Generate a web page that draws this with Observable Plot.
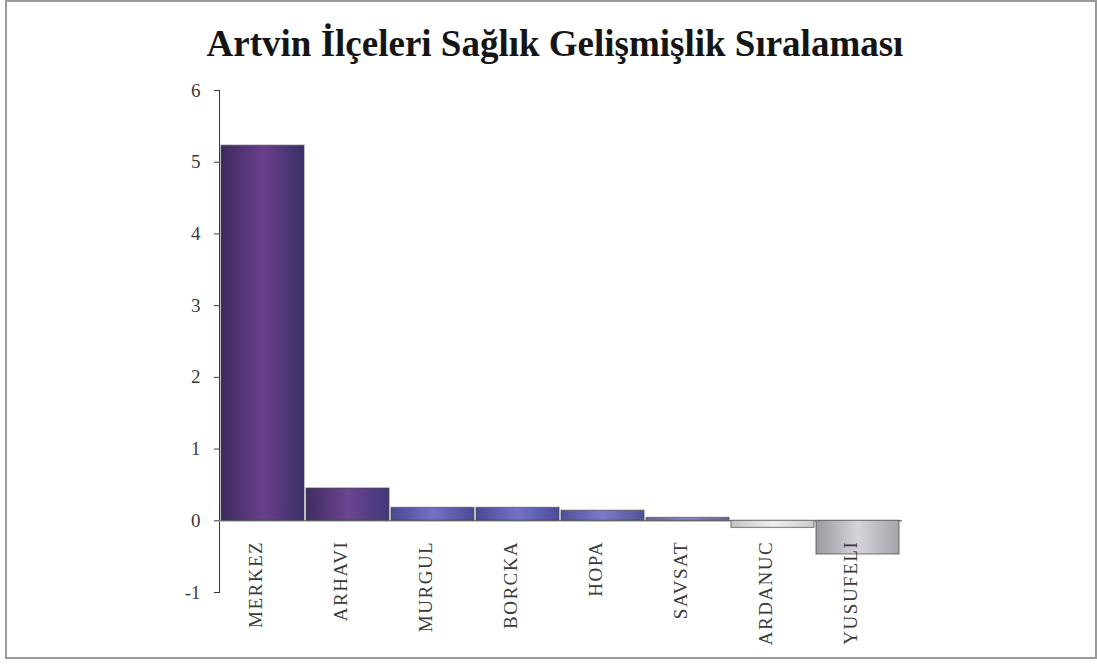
<!DOCTYPE html>
<html><head><meta charset="utf-8">
<script src="https://cdn.jsdelivr.net/npm/d3@7"></script>
<script src="https://cdn.jsdelivr.net/npm/@observablehq/plot@0.6"></script>
<style>
body{margin:0;background:#fff;}
#wrap{position:relative;width:1097px;height:664px;overflow:hidden;background:#fff;}
#frame{position:absolute;left:5px;top:0px;width:1092px;height:659px;border:2px solid #9a9a9a;box-sizing:border-box;}
#title{position:absolute;left:0;width:1110px;top:22px;text-align:center;font-family:"Liberation Serif",serif;font-weight:bold;font-size:37px;color:#151515;white-space:nowrap;}
#chart{position:absolute;left:0;top:0;}
</style></head>
<body>
<svg width="0" height="0" style="position:absolute"><defs id="defs"></defs></svg>
<div id="wrap"><div id="frame"></div><div id="title">Artvin İlçeleri Sağlık Gelişmişlik Sıralaması</div><div id="chart"></div></div>
<script>
const districts = ["MERKEZ","ARHAVI","MURGUL","BORCKA","HOPA","SAVSAT","ARDANUC","YUSUFELI"];
const scores = [5.23, 0.45, 0.18, 0.18, 0.14, 0.04, -0.1, -0.47];
const yTicks = [-1, 0, 1, 2, 3, 4, 5, 6];

const barShades = [
  ["#3b2a5c","#6a3f8c","#3a3068"],
  ["#3f2c60","#6a4590","#43377a"],
  ["#4a4790","#7470c6","#4b4a95"],
  ["#484894","#7472c8","#4a4c98"],
  ["#50509a","#7c7aca","#525296"],
  ["#6a6a9a","#8d8cc0","#6a6a98"],
  ["#c4c4c6","#eeeeee","#cdcdcf"],
  ["#9c9aa0","#d6d4da","#a6a4aa"]
];
const barStrokes = ["#2e2448","#32264e","#3a3878","#3a3878","#3e3e80","#5a5a88","#a8a8a8","#808080"];

const defs = d3.select("#defs");
barShades.forEach((s, i) => {
  const g = defs.append("linearGradient").attr("id", "g" + i).attr("x1", "0%").attr("x2", "100%").attr("y1", "0%").attr("y2", "0%");
  g.append("stop").attr("offset", "0%").attr("stop-color", s[0]);
  g.append("stop").attr("offset", "50%").attr("stop-color", s[1]);
  g.append("stop").attr("offset", "100%").attr("stop-color", s[2]);
});

const data = districts.map((d, i) => ({district: d, score: scores[i]}));

const chart = Plot.plot({
  width: 1097,
  height: 664,
  marginTop: 90,
  marginBottom: 72,
  marginLeft: 219,
  marginRight: 195,
  style: {background: "transparent", fontFamily: "'Liberation Serif', serif", fontSize: "19px", color: "#3a3a3a"},
  x: {domain: districts, padding: 0.02, axis: null},
  y: {domain: [-1, 6], ticks: yTicks, tickFormat: d => String(d), label: null, line: true, tickSize: 5, tickPadding: 14},
  color: {domain: districts, range: districts.map((d, i) => `url(#g${i})`)},
  marks: [
    Plot.ruleY([0], {stroke: "#8a8a8a", strokeWidth: 1.5}),
    Plot.barY(data, {x: "district", y: "score", fill: "district", stroke: "#444", strokeOpacity: 0.6, strokeWidth: 1.2}),
    Plot.text(data, {x: "district", y: () => 0, text: "district", rotate: -90, textAnchor: "end", lineAnchor: "middle", dy: 20, dx: -7, fontSize: 19, fill: "#3a3a3a"})
  ]
});
document.getElementById("chart").appendChild(chart);
d3.select(chart).selectAll("text")
  .filter(function() { return districts.includes(this.textContent); })
  .attr("letter-spacing", "1.5px");
</script>
</body></html>
